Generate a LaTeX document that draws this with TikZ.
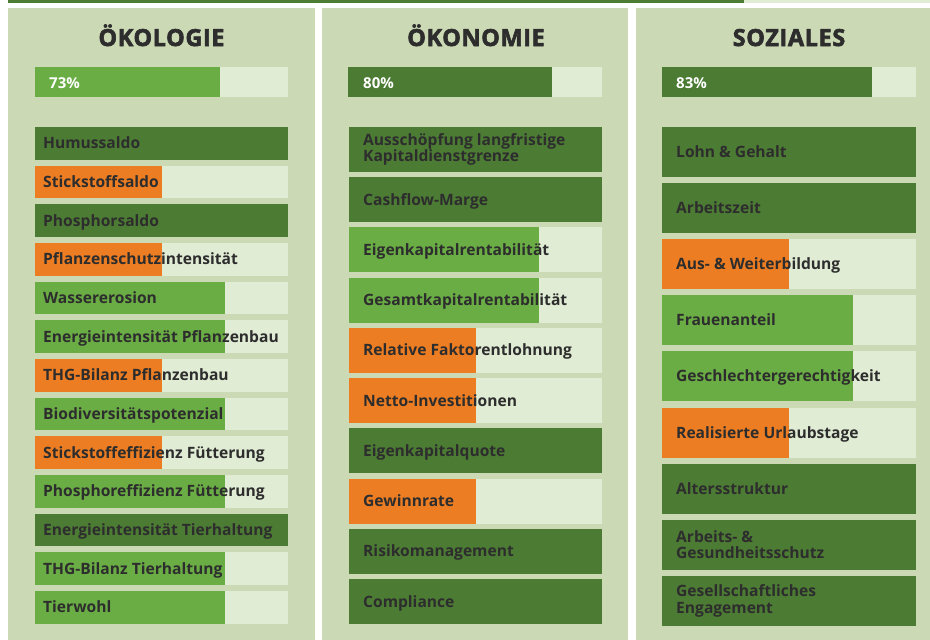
\documentclass[tikz,border=0pt]{standalone}
\usepackage{fontspec}
\setmainfont{Open Sans}
\newfontfamily\titlefont[FakeBold=2.5,LetterSpace=2.5]{Open Sans Bold}
\definecolor{panel}{RGB}{203,217,181}
\definecolor{dkgreen}{RGB}{76,123,52}
\definecolor{ltgreen}{RGB}{106,173,69}
\definecolor{orng}{RGB}{236,125,35}
\definecolor{pale}{RGB}{224,236,212}
\definecolor{txt}{RGB}{45,45,45}
\tikzset{
  titletext/.style={font=\titlefont\fontsize{23.5}{28}\selectfont, text=txt, inner sep=0pt, anchor=base},
  pcttext/.style={font=\bfseries\fontsize{15}{17}\selectfont, text=white, inner sep=0pt, anchor=base west},
  itemone/.style={font=\bfseries\fontsize{15.6}{16.6}\selectfont, text=txt, inner sep=0pt, anchor=west, text height=11.1pt, text depth=0pt},
  itemtwo/.style={font=\bfseries\fontsize{15.6}{16.6}\selectfont, text=txt, inner sep=0pt, anchor=west, align=left},
}
\begin{document}
\begin{tikzpicture}[x=1pt,y=-1pt]
\useasboundingbox (0,0) rectangle (930,640);
\fill[white] (0,0) rectangle (930,640);
% top line
\fill[pale] (744,0) rectangle (930,2.5);
\fill[dkgreen] (8,0) rectangle (744,2.5);
% panels
\fill[panel] (8,8) rectangle (314.5,640);
\fill[panel] (322,8) rectangle (628,640);
\fill[panel] (636,8) rectangle (930,640);
% titles
\node[titletext] (t1) at (161.5,46) {ÖKOLOGIE};
\node[titletext] (t2) at (476,46) {ÖKONOMIE};
\node[titletext] (t3) at (789,46) {SOZIALES};
% percentage bars
\fill[pale] (35,67) rectangle (288,97);
\fill[ltgreen] (35,67) rectangle (220,97);
\node[pcttext] (p1) at (49,88.3) {73\%};
\fill[pale] (348,67) rectangle (602,97);
\fill[dkgreen] (348,67) rectangle (552,97);
\node[pcttext] (p2) at (363,88.3) {80\%};
\fill[pale] (662,67) rectangle (916,97);
\fill[dkgreen] (662,67) rectangle (872,97);
\node[pcttext] (p3) at (676,88.3) {83\%};
% Oekologie rows
\foreach \lbl/\c/\f [count=\i from 0] in {
  Humussaldo/dkgreen/1,
  Stickstoffsaldo/orng/0.5,
  Phosphorsaldo/dkgreen/1,
  Pflanzenschutzintensität/orng/0.5,
  Wassererosion/ltgreen/0.75,
  Energieintensität Pflanzenbau/ltgreen/0.75,
  THG-Bilanz Pflanzenbau/orng/0.5,
  Biodiversitätspotenzial/ltgreen/0.75,
  Stickstoffeffizienz Fütterung/orng/0.5,
  Phosphoreffizienz Fütterung/ltgreen/0.75,
  Energieintensität Tierhaltung/dkgreen/1,
  THG-Bilanz Tierhaltung/ltgreen/0.75,
  Tierwohl/ltgreen/0.75}{
  \pgfmathsetmacro\t{127+\i*38.67}
  \pgfmathsetmacro\xe{35+\f*253}
  \fill[pale] (35,\t) rectangle (288,\t+32.5);
  \fill[\c] (35,\t) rectangle (\xe,\t+32.5);
  \node[itemone] (a\i) at (43,\t+16.25) {\lbl};
}
% Oekonomie rows
\foreach \lbl/\c/\f/\n [count=\i from 0] in {
  {Ausschöpfung langfristige\\Kapitaldienstgrenze}/dkgreen/1/2,
  Cashflow-Marge/dkgreen/1/1,
  Eigenkapitalrentabilität/ltgreen/0.75/1,
  Gesamtkapitalrentabilität/ltgreen/0.75/1,
  Relative Faktorentlohnung/orng/0.5/1,
  Netto-Investitionen/orng/0.5/1,
  Eigenkapitalquote/dkgreen/1/1,
  Gewinnrate/orng/0.5/1,
  Risikomanagement/dkgreen/1/1,
  Compliance/dkgreen/1/1}{
  \pgfmathsetmacro\t{127+\i*50.22}
  \pgfmathsetmacro\xe{349+\f*253}
  \fill[pale] (349,\t) rectangle (602,\t+45);
  \fill[\c] (349,\t) rectangle (\xe,\t+45);
  \ifnum\n=1
    \node[itemone] (b\i) at (363,\t+22.5) {\lbl};
  \else
    \node[itemtwo] (b\i) at (363,\t+22.5) {\lbl};
  \fi
}
% Soziales rows
\foreach \lbl/\c/\f/\n [count=\i from 0] in {
  Lohn \& Gehalt/dkgreen/1/1,
  Arbeitszeit/dkgreen/1/1,
  Aus- \& Weiterbildung/orng/0.5/1,
  Frauenanteil/ltgreen/0.75/1,
  Geschlechtergerechtigkeit/ltgreen/0.75/1,
  Realisierte Urlaubstage/orng/0.5/1,
  Altersstruktur/dkgreen/1/1,
  {Arbeits- \&\\Gesundheitsschutz}/dkgreen/1/2,
  {Gesellschaftliches\\Engagement}/dkgreen/1/2}{
  \pgfmathsetmacro\t{127+\i*56.1}
  \pgfmathsetmacro\xe{662+\f*254}
  \fill[pale] (662,\t) rectangle (916,\t+50);
  \fill[\c] (662,\t) rectangle (\xe,\t+50);
  \ifnum\n=1
    \node[itemone] (c\i) at (676,\t+25) {\lbl};
  \else
    \node[itemtwo] (c\i) at (676,\t+25) {\lbl};
  \fi
}
\end{tikzpicture}
\end{document}
